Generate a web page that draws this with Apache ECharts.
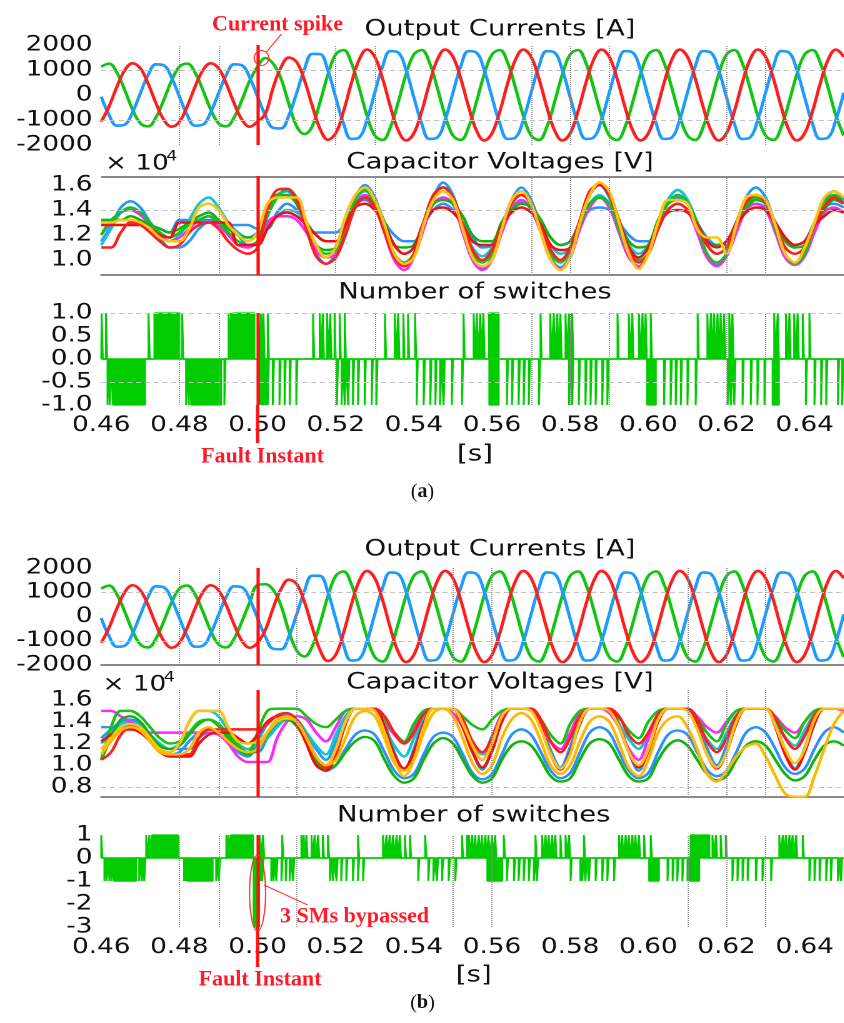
<!DOCTYPE html>
<html><head><meta charset="utf-8">
<script src="https://cdn.jsdelivr.net/npm/echarts@6/dist/echarts.min.js"></script>
<style>
html,body{margin:0;padding:0;background:#fff;overflow:hidden;}
#wrap{position:absolute;left:0;top:0;width:675px;height:1023px;transform:scaleX(1.25);transform-origin:0 0;}
#chart{width:675px;height:1023px;}
</style></head><body>
<div id="wrap"><div id="chart"></div></div>
<script>
// ---------- time grids ----------
const T_START = 0.46, T_END = 0.65, FAULT_T = 0.50;
const CUR_STEP = 0.002;   // current samples every 2 ms
const CAP_STEP = 0.0025;  // capacitor voltage samples every 2.5 ms
const xTicks = [0.46, 0.48, 0.50, 0.52, 0.54, 0.56, 0.58, 0.60, 0.62, 0.64];

// ---------- (a) output currents [A] ----------
const curA_green = [1132,1255,898,198,-577,-1132,-1255,-898,-198,577, 1132,1255,898,198,-577,-1132,-1255,-898,-198,577,
 1132,1480,1250,650,-350,-1250,-1560,-1250,-273,813,
 1622,1798,1287,284,-826,-1622,-1798,-1287,-284,826, 1622,1798,1287,284,-826,-1622,-1798,-1287,-284,826,
 1622,1798,1287,284,-826,-1622,-1798,-1287,-284,826, 1622,1798,1287,284,-826,-1622,-1798,-1287,-284,826,
 1622,1798,1287,284,-826,-1622,-1798,-1287,-284,826, 1622,1798,1287,284,-826,-1622,-1798,-1287,-284,826,
 1622,1798,1287,284,-826,-1622];
const curA_red = [-1066,-455,329,987,1269,1066,455,-329,-987,-1269, -1066,-455,329,987,1269,1066,455,-329,-987,-1269,
 -1066,-750,300,1111,1499,1317,587,-440,-1360,-1788,
 -1527,-652,471,1414,1818,1527,652,-471,-1414,-1818, -1527,-652,471,1414,1818,1527,652,-471,-1414,-1818,
 -1527,-652,471,1414,1818,1527,652,-471,-1414,-1818, -1527,-652,471,1414,1818,1527,652,-471,-1414,-1818,
 -1527,-652,471,1414,1818,1527,652,-471,-1414,-1818, -1527,-652,471,1414,1818,1527,652,-471,-1414,-1818,
 -1527,-652,471,1414,1818,1527];
const curA_blue = [-66,-799,-1227,-1186,-692,66,799,1227,1186,692, -66,-799,-1227,-1186,-692,66,799,1227,1186,692,
 -66,-818,-1314,-1336,-818,82,1032,1642,1635,976,
 -95,-1145,-1758,-1700,-992,95,1145,1758,1700,992, -95,-1145,-1758,-1700,-992,95,1145,1758,1700,992,
 -95,-1145,-1758,-1700,-992,95,1145,1758,1700,992, -95,-1145,-1758,-1700,-992,95,1145,1758,1700,992,
 -95,-1145,-1758,-1700,-992,95,1145,1758,1700,992, -95,-1145,-1758,-1700,-992,95,1145,1758,1700,992,
 -95,-1145,-1758,-1700,-992,95];

// ---------- (b) output currents [A] ----------
const curB_green = [1149,1275,912,201,-586,-1149,-1275,-912,-201,586, 1149,1275,912,201,-586,-1149,-1275,-912,-201,586,
 1300,1330,1100,450,-600,-1400,-1650,-1230,-279,835,
 1675,1857,1329,293,-854,-1675,-1857,-1329,-293,854, 1675,1857,1329,293,-854,-1675,-1857,-1329,-293,854,
 1675,1857,1329,293,-854,-1675,-1857,-1329,-293,854, 1675,1857,1329,293,-854,-1675,-1857,-1329,-293,854,
 1675,1857,1329,293,-854,-1675,-1857,-1329,-293,854, 1675,1857,1329,293,-854,-1675,-1857,-1329,-293,854,
 1675,1857,1329,293,-854,-1675];
const curB_red = [-1082,-462,334,1002,1289,1082,462,-334,-1002,-1289, -1082,-462,334,1002,1289,1082,462,-334,-1002,-1289,
 -1082,-550,357,1127,1518,1342,598,-451,-1391,-1838,
 -1577,-673,487,1461,1878,1577,673,-487,-1461,-1878, -1577,-673,487,1461,1878,1577,673,-487,-1461,-1878,
 -1577,-673,487,1461,1878,1577,673,-487,-1461,-1878, -1577,-673,487,1461,1878,1577,673,-487,-1461,-1878,
 -1577,-673,487,1461,1878,1577,673,-487,-1461,-1878, -1577,-673,487,1461,1878,1577,673,-487,-1461,-1878,
 -1577,-673,487,1461,1878,1577];
const curB_blue = [-67,-811,-1246,-1205,-703,67,811,1246,1205,703, -67,-811,-1246,-1205,-703,67,811,1246,1205,703,
 -67,-830,-1333,-1354,-828,83,1050,1681,1672,1003,
 -98,-1183,-1816,-1756,-1025,98,1183,1816,1756,1025, -98,-1183,-1816,-1756,-1025,98,1183,1816,1756,1025,
 -98,-1183,-1816,-1756,-1025,98,1183,1816,1756,1025, -98,-1183,-1816,-1756,-1025,98,1183,1816,1756,1025,
 -98,-1183,-1816,-1756,-1025,98,1183,1816,1756,1025, -98,-1183,-1816,-1756,-1025,98,1183,1816,1756,1025,
 -98,-1183,-1816,-1756,-1025,98];

// ---------- (a) capacitor voltages [x10^4 V] ----------
const capA_blue = [1.15,1.27,1.42,1.47,1.42,1.30,1.18,1.10, 1.10,1.15,1.25,1.30,1.30,1.28,1.20,1.12, 1.15,1.35,1.52,1.55,1.45,1.25,1.05,0.97, 1.05,1.27,1.50,1.60,1.50,1.27,1.05,0.95, 1.03,1.27,1.50,1.62,1.52,1.27,1.02,0.93, 1.02,1.26,1.48,1.58,1.48,1.26,1.02,0.94, 1.03,1.28,1.52,1.60,1.50,1.27,1.03,0.95, 1.05,1.28,1.48,1.56,1.48,1.27,1.05,0.96, 1.05,1.28,1.50,1.58,1.50,1.28,1.05,0.97, 1.05,1.28,1.48,1.55,1.48];
const capA_red = [1.10,1.10,1.22,1.30,1.28,1.22,1.15,1.10, 1.12,1.22,1.28,1.30,1.25,1.15,1.08,1.05, 1.10,1.40,1.56,1.57,1.48,1.25,1.03,0.97, 1.02,1.20,1.42,1.50,1.42,1.22,1.02,0.95, 1.05,1.30,1.52,1.58,1.50,1.28,1.08,1.00, 1.08,1.27,1.45,1.52,1.45,1.25,1.08,1.00, 1.10,1.32,1.52,1.62,1.52,1.30,1.08,0.98, 1.05,1.25,1.40,1.45,1.40,1.27,1.12,1.05, 1.10,1.30,1.46,1.52,1.46,1.28,1.10,1.05, 1.10,1.28,1.42,1.50,1.45];
const capA_green = [1.20,1.32,1.38,1.42,1.38,1.30,1.22,1.18, 1.22,1.28,1.32,1.35,1.30,1.22,1.15,1.12, 1.15,1.35,1.50,1.57,1.50,1.30,1.12,1.05, 1.08,1.28,1.50,1.56,1.45,1.25,1.05,0.98, 1.05,1.30,1.52,1.58,1.50,1.28,1.05,0.98, 1.05,1.25,1.45,1.52,1.45,1.28,1.05,0.98, 1.07,1.28,1.45,1.50,1.45,1.25,1.06,1.00, 1.05,1.28,1.45,1.52,1.46,1.27,1.05,0.98, 1.05,1.27,1.45,1.50,1.45,1.25,1.05,0.97, 1.05,1.27,1.45,1.52,1.45];
const capA_magenta = [1.20,1.30,1.38,1.40,1.36,1.28,1.20,1.15, 1.18,1.25,1.32,1.35,1.28,1.20,1.12,1.10, 1.15,1.30,1.35,1.35,1.32,1.22,1.08,1.02, 1.05,1.28,1.45,1.52,1.45,1.22,1.00,0.92, 1.02,1.25,1.45,1.50,1.45,1.22,1.00,0.92, 1.00,1.22,1.40,1.48,1.40,1.22,1.00,0.93, 1.02,1.25,1.42,1.50,1.42,1.22,1.02,0.95, 1.05,1.25,1.40,1.45,1.40,1.22,1.02,0.95, 1.03,1.22,1.40,1.45,1.40,1.22,1.02,0.96, 1.03,1.22,1.38,1.42,1.38];
const capA_cyan = [1.12,1.25,1.38,1.42,1.38,1.28,1.20,1.15, 1.20,1.32,1.45,1.50,1.42,1.30,1.22,1.18, 1.22,1.28,1.35,1.40,1.38,1.30,1.20,1.15, 1.15,1.30,1.48,1.55,1.48,1.30,1.12,1.05, 1.10,1.30,1.50,1.55,1.48,1.28,1.10,1.03, 1.10,1.28,1.42,1.48,1.42,1.28,1.12,1.05, 1.10,1.30,1.45,1.52,1.45,1.30,1.12,1.05, 1.12,1.30,1.48,1.56,1.48,1.30,1.12,1.05, 1.10,1.28,1.45,1.52,1.45,1.28,1.10,1.05, 1.10,1.28,1.45,1.52,1.46];
const capA_yellow = [1.30,1.30,1.32,1.32,1.30,1.25,1.18,1.15, 1.15,1.25,1.42,1.45,1.40,1.28,1.20,1.15, 1.22,1.45,1.50,1.50,1.50,1.30,1.12,1.02, 1.10,1.35,1.52,1.58,1.48,1.28,1.05,0.97, 1.02,1.28,1.48,1.55,1.48,1.25,1.02,0.95, 1.00,1.25,1.48,1.55,1.45,1.22,1.00,0.92, 1.02,1.30,1.52,1.62,1.55,1.30,1.05,0.93, 1.05,1.30,1.48,1.48,1.45,1.25,1.18,1.18, 1.05,1.28,1.50,1.52,1.48,1.28,1.05,0.98, 1.10,1.30,1.50,1.55,1.50];
const capA_blue2 = [1.32,1.32,1.32,1.32,1.30,1.28,1.25,1.22, 1.32,1.32,1.32,1.32,1.30,1.28,1.28,1.28, 1.25,1.25,1.38,1.45,1.40,1.28,1.22,1.22, 1.22,1.30,1.45,1.48,1.42,1.30,1.20,1.15, 1.15,1.28,1.40,1.45,1.40,1.30,1.18,1.10, 1.12,1.30,1.42,1.47,1.42,1.30,1.18,1.12, 1.15,1.30,1.40,1.42,1.40,1.30,1.20,1.15, 1.15,1.30,1.45,1.50,1.45,1.30,1.18,1.12, 1.15,1.30,1.42,1.45,1.42,1.30,1.18,1.12, 1.15,1.30,1.42,1.45,1.42];
const capA_red2 = [1.28,1.28,1.28,1.28,1.28,1.25,1.20,1.18, 1.30,1.30,1.30,1.30,1.30,1.30,1.12,1.12, 1.12,1.25,1.35,1.38,1.35,1.28,1.20,1.15, 1.15,1.28,1.42,1.45,1.40,1.28,1.12,1.05, 1.10,1.30,1.40,1.42,1.38,1.28,1.15,1.12, 1.12,1.28,1.38,1.42,1.38,1.28,1.12,1.08, 1.10,1.32,1.55,1.60,1.52,1.32,1.10,1.02, 1.10,1.28,1.38,1.40,1.38,1.28,1.15,1.10, 1.15,1.28,1.38,1.42,1.40,1.30,1.18,1.12, 1.15,1.28,1.35,1.40,1.38];
const capA_green2 = [1.32,1.32,1.32,1.35,1.32,1.28,1.25,1.22, 1.25,1.30,1.35,1.38,1.32,1.25,1.20,1.18, 1.20,1.40,1.52,1.52,1.45,1.30,1.12,1.08, 1.10,1.30,1.45,1.50,1.45,1.30,1.12,1.10, 1.12,1.30,1.45,1.48,1.45,1.35,1.20,1.15, 1.15,1.30,1.40,1.45,1.42,1.32,1.18,1.12, 1.15,1.30,1.45,1.50,1.45,1.30,1.15,1.10, 1.12,1.32,1.45,1.48,1.45,1.30,1.15,1.12, 1.12,1.30,1.42,1.48,1.45,1.30,1.15,1.10, 1.12,1.28,1.40,1.48,1.45];

// ---------- (b) capacitor voltages [x10^4 V] ----------
const capB_blue = [1.25,1.33,1.40,1.42,1.38,1.28,1.16,1.10, 1.12,1.22,1.30,1.33,1.30,1.22,1.12,1.08, 1.22,1.38,1.45,1.46,1.42,1.30,1.15,1.05, 1.21,1.43,1.52,1.52,1.52,1.38,1.12,0.95, 1.15,1.41,1.52,1.52,1.52,1.38,1.13,0.96, 1.15,1.41,1.52,1.52,1.52,1.39,1.14,0.98, 1.17,1.41,1.52,1.52,1.52,1.38,1.12,0.95, 1.15,1.41,1.52,1.52,1.52,1.39,1.16,1.00, 1.18,1.42,1.52,1.52,1.52,1.38,1.14,0.97, 1.16,1.41,1.52,1.52,1.52];
const capB_red = [1.05,1.12,1.28,1.35,1.32,1.22,1.12,1.10, 1.10,1.10,1.25,1.33,1.33,1.33,1.33,1.33, 1.33,1.38,1.46,1.48,1.42,1.26,1.08,0.98, 1.10,1.38,1.52,1.52,1.52,1.45,1.30,1.20, 1.30,1.47,1.52,1.52,1.52,1.42,1.22,1.12, 1.25,1.45,1.52,1.52,1.52,1.42,1.22,1.12, 1.25,1.45,1.52,1.52,1.52,1.45,1.28,1.20, 1.30,1.47,1.52,1.52,1.52,1.42,1.22,1.12, 1.25,1.45,1.52,1.52,1.52,1.43,1.25,1.15, 1.27,1.46,1.52,1.52,1.52];
const capB_green = [1.05,1.35,1.50,1.50,1.45,1.35,1.25,1.20, 1.22,1.30,1.40,1.42,1.38,1.28,1.18,1.12, 1.30,1.50,1.52,1.52,1.52,1.45,1.38,1.35, 1.42,1.50,1.52,1.52,1.52,1.42,1.30,1.22, 1.38,1.50,1.52,1.52,1.52,1.45,1.37,1.33, 1.42,1.50,1.52,1.52,1.52,1.42,1.28,1.20, 1.38,1.50,1.52,1.52,1.52,1.44,1.32,1.25, 1.40,1.50,1.52,1.52,1.52,1.43,1.30,1.22, 1.38,1.50,1.52,1.52,1.52,1.44,1.32,1.25, 1.40,1.50,1.52,1.52,1.52];
const capB_magenta = [1.50,1.50,1.45,1.40,1.35,1.30,1.30,1.30, 1.30,1.30,1.30,1.30,1.28,1.20,1.08,1.03, 1.03,1.03,1.25,1.40,1.45,1.42,1.30,1.22, 1.35,1.50,1.52,1.52,1.50,1.40,1.28,1.20, 1.35,1.50,1.52,1.52,1.48,1.35,1.15,1.05, 1.25,1.47,1.52,1.52,1.50,1.40,1.22,1.15, 1.30,1.48,1.52,1.52,1.48,1.35,1.15,1.05, 1.25,1.47,1.52,1.52,1.52,1.45,1.35,1.30, 1.40,1.50,1.52,1.52,1.52,1.45,1.35,1.30, 1.40,1.50,1.52,1.52,1.50];
const capB_cyan = [1.20,1.30,1.38,1.40,1.36,1.28,1.20,1.15, 1.20,1.40,1.50,1.50,1.45,1.32,1.20,1.15, 1.20,1.25,1.35,1.42,1.40,1.30,1.18,1.10, 1.28,1.45,1.52,1.52,1.52,1.35,1.18,1.08, 1.25,1.45,1.52,1.52,1.52,1.36,1.20,1.10, 1.27,1.45,1.52,1.52,1.52,1.37,1.22,1.12, 1.28,1.46,1.52,1.52,1.52,1.38,1.24,1.15, 1.30,1.46,1.52,1.52,1.52,1.38,1.24,1.15, 1.30,1.46,1.52,1.52,1.52,1.40,1.26,1.18, 1.32,1.47,1.52,1.52,1.52];
const capB_yellow = [1.15,1.25,1.35,1.38,1.35,1.25,1.15,1.12, 1.20,1.40,1.50,1.50,1.50,1.35,1.22,1.20, 1.22,1.30,1.40,1.43,1.40,1.25,1.08,1.00, 1.15,1.40,1.52,1.52,1.50,1.30,1.05,0.90, 1.05,1.35,1.52,1.52,1.52,1.38,1.18,1.05, 1.20,1.45,1.52,1.52,1.50,1.33,1.10,0.97, 1.10,1.40,1.52,1.52,1.50,1.35,1.12,1.00, 1.15,1.42,1.52,1.52,1.50,1.33,1.10,0.98, 1.12,1.40,1.52,1.52,1.52,1.36,1.15,1.02, 1.15,1.42,1.52,1.52,1.52];
const capB_blue2 = [1.35,1.35,1.35,1.36,1.33,1.25,1.18,1.15, 1.15,1.15,1.25,1.30,1.28,1.22,1.15,1.12, 1.12,1.25,1.38,1.42,1.38,1.22,1.02,0.95, 1.00,1.15,1.28,1.32,1.28,1.12,0.95,0.88, 0.92,1.10,1.26,1.30,1.26,1.10,0.93,0.87, 0.92,1.10,1.28,1.33,1.28,1.12,0.95,0.88, 0.93,1.12,1.30,1.35,1.30,1.12,0.95,0.88, 0.93,1.12,1.28,1.32,1.28,1.12,0.96,0.90, 0.95,1.12,1.30,1.35,1.30,1.15,0.98,0.92, 0.97,1.15,1.30,1.35,1.30];
const capB_red2 = [1.22,1.28,1.32,1.33,1.30,1.22,1.12,1.08, 1.08,1.08,1.20,1.28,1.30,1.30,1.25,1.20, 1.28,1.40,1.45,1.45,1.38,1.20,1.00,0.95, 1.10,1.38,1.52,1.52,1.52,1.35,1.10,0.97, 1.12,1.38,1.52,1.52,1.52,1.35,1.12,0.98, 1.13,1.40,1.52,1.52,1.52,1.35,1.10,0.96, 1.12,1.38,1.52,1.52,1.52,1.35,1.12,0.98, 1.13,1.40,1.52,1.52,1.52,1.35,1.10,0.97, 1.12,1.38,1.52,1.52,1.52,1.35,1.10,0.96, 1.12,1.38,1.52,1.52,1.52];
const capB_green2 = [1.05,1.25,1.42,1.45,1.40,1.28,1.18,1.15, 1.18,1.28,1.38,1.42,1.36,1.25,1.15,1.10, 1.15,1.28,1.40,1.42,1.36,1.22,1.05,0.97, 1.00,1.12,1.22,1.26,1.22,1.05,0.90,0.84, 0.88,1.05,1.20,1.25,1.20,1.05,0.90,0.84, 0.88,1.05,1.18,1.22,1.18,1.05,0.90,0.85, 0.88,1.05,1.20,1.24,1.20,1.05,0.90,0.85, 0.88,1.05,1.18,1.23,1.18,1.05,0.92,0.86, 0.90,1.05,1.18,1.22,1.18,1.05,0.92,0.86, 0.90,1.05,1.18,1.22,1.18];
const capB_yellow2 = [1.10,1.22,1.32,1.35,1.32,1.22,1.12,1.10, 1.10,1.15,1.30,1.35,1.30,1.22,1.15,1.12, 1.15,1.30,1.42,1.45,1.40,1.25,1.08,1.00, 1.05,1.25,1.45,1.50,1.45,1.25,1.02,0.95, 1.05,1.30,1.48,1.52,1.45,1.25,1.02,0.92, 1.00,1.25,1.42,1.48,1.42,1.22,1.00,0.92, 1.00,1.22,1.40,1.45,1.40,1.20,0.98,0.90, 1.05,1.30,1.42,1.45,1.35,1.15,0.92,0.85, 0.95,1.08,1.17,1.20,1.08,0.90,0.74,0.71, 0.71,0.90,1.15,1.38,1.50];

// ---------- number of switches: pulse start times, dense blocks [start, end, level] ----------
const PULSE_W = 0.0003;
const swA_pos = [0.4601,0.4612,0.4721,0.4807,0.4926,0.4932,0.5001,0.5009,0.5015,0.5026,0.5142,0.5159,0.5167,0.5178,0.5186,0.5197,0.5210,0.5223,0.5326,0.5351,0.5360,0.5373,0.5385,0.5403,0.5527,0.5553,0.5561,0.5570,0.5578,0.5724,0.5749,0.5758,0.5767,0.5775,0.5788,0.5797,0.5805,0.5921,0.5950,0.5959,0.5976,0.5985,0.5993,0.6006,0.6126,0.6151,0.6160,0.6168,0.6177,0.6185,0.6194,0.6207,0.6215,0.6322,0.6331,0.6352,0.6361,0.6373,0.6382,0.6395,0.6412];
const swA_posBlocks = [[0.4736,0.4800,1],[0.4937,0.4992,1],[0.5592,0.5617,1]];
const swA_neg = [0.4616,0.4622,0.4817,0.4824,0.4915,0.5001,0.5006,0.5011,0.5016,0.5021,0.5026,0.5039,0.5056,0.5069,0.5082,0.5099,0.5203,0.5215,0.5223,0.5232,0.5244,0.5257,0.5274,0.5292,0.5304,0.5407,0.5425,0.5442,0.5455,0.5467,0.5476,0.5497,0.5523,0.5638,0.5651,0.5668,0.5681,0.5694,0.5720,0.5797,0.5805,0.5822,0.5839,0.5852,0.5865,0.5882,0.5895,0.6040,0.6057,0.6070,0.6083,0.6100,0.6121,0.6203,0.6211,0.6220,0.6241,0.6262,0.6279,0.6297,0.6403,0.6425,0.6442,0.6455,0.6485,0.6496];
const swA_negBlocks = [[0.4630,0.4712,-1],[0.4830,0.4907,-1],[0.5593,0.5617,-1],[0.5997,0.6019,-1],[0.6318,0.6334,-1]];
const swB_pos = [0.4600,0.4715,0.4723,0.4920,0.4926,0.5005,0.5014,0.5063,0.5112,0.5118,0.5125,0.5138,0.5146,0.5155,0.5167,0.5180,0.5257,0.5321,0.5330,0.5338,0.5347,0.5356,0.5364,0.5377,0.5390,0.5429,0.5523,0.5536,0.5541,0.5549,0.5557,0.5566,0.5574,0.5583,0.5591,0.5600,0.5608,0.5630,0.5711,0.5728,0.5737,0.5745,0.5754,0.5762,0.5775,0.5788,0.5797,0.5835,0.5925,0.5933,0.5942,0.5950,0.5959,0.5967,0.5976,0.5989,0.6006,0.6164,0.6173,0.6185,0.6198,0.6335,0.6344,0.6352,0.6361,0.6369,0.6378,0.6395];
const swB_posBlocks = [[0.4730,0.4796,1],[0.4932,0.4988,1],[0.6108,0.6156,1]];
const swB_neg = [0.4608,0.4614,0.4621,0.4627,0.4697,0.4704,0.4710,0.4812,0.4817,0.4894,0.4901,0.5007,0.5012,0.5035,0.5041,0.5048,0.5061,0.5072,0.5082,0.5091,0.5185,0.5193,0.5202,0.5214,0.5227,0.5244,0.5257,0.5270,0.5411,0.5437,0.5450,0.5459,0.5472,0.5489,0.5506,0.5638,0.5656,0.5668,0.5681,0.5694,0.5707,0.5715,0.5801,0.5826,0.5831,0.5839,0.5848,0.5865,0.5882,0.5895,0.5912,0.6049,0.6062,0.6074,0.6087,0.6100,0.6215,0.6228,0.6241,0.6254,0.6275,0.6292,0.6314,0.6412,0.6425,0.6438,0.6455,0.6467,0.6485,0.6493];
const swB_negBlocks = [[0.4633,0.4689,-1],[0.4821,0.4885,-1],[0.4990,0.5004,-3],[0.5588,0.5626,-1],[0.6002,0.6027,-1],[0.6105,0.6130,-1]];

// ---------- gridline positions ----------
const vGridA = [0.48,0.49,0.52,0.53,0.57,0.58,0.59,0.62,0.63];
const vGridB = [0.48,0.49,0.51,0.55,0.56,0.61,0.62,0.63];

// ---------- styling ----------
const C = {red:'#ff1e1e', green:'#14c414', blue:'#1e9bff', magenta:'#ff26ff', cyan:'#12c6d0', yellow:'#ffc20e',
  blue2:'#2f8fff', red2:'#ee1010', green2:'#0fb40f', yellow2:'#ffb800', sw:'#00cc00', fault:'#ff1010'};
const FONT = 'DejaVu Sans';

function pairs(arr, step){ return arr.map((v,i)=>[+(T_START + i*step).toFixed(5), v]); }
function pulses(thin, blocks, level){
  const segs = thin.map(t=>[t, t+PULSE_W, level]).concat(blocks);
  segs.sort((a,b)=>a[0]-b[0]);
  const pts = [[T_START,0]];
  segs.forEach(s=>{ pts.push([s[0],0],[s[0],s[2]],[s[1],s[2]],[s[1],0]); });
  pts.push([T_END,0]);
  return pts;
}
function line(gi, data, color, w, smooth){
  return {type:'line', xAxisIndex:gi, yAxisIndex:gi, data, showSymbol:false, symbol:'none', smooth:smooth,
    silent:true, lineStyle:{color, width:w}, itemStyle:{color}, z:2};
}
function swSeries(gi, data){
  return {type:'line', xAxisIndex:gi, yAxisIndex:gi, data, showSymbol:false, symbol:'none', silent:true,
    lineStyle:{color:C.sw, width:1.5}, areaStyle:{color:C.sw, opacity:1, origin:0}, z:2};
}
function gridMarks(gi, vlines, hlines, extra){
  const d = vlines.map(v=>({xAxis:v, lineStyle:{type:'dotted', color:'#8f8f8f', width:1}}))
    .concat(hlines.map(v=>({yAxis:v, lineStyle:{type:[4,3], color:'#c2c2c2', width:1}})))
    .concat(extra || []);
  return {type:'line', xAxisIndex:gi, yAxisIndex:gi, data:[[T_START,null]], z:1, silent:true, showSymbol:false,
    markLine:{silent:true, symbol:['none','none'], label:{show:false}, animation:false, data:d}};
}
function faultMark(gi){
  return {type:'line', xAxisIndex:gi, yAxisIndex:gi, data:[[T_START,null]], z:10, silent:true, showSymbol:false,
    markLine:{silent:true, symbol:['none','none'], label:{show:false}, animation:false,
      data:[{xAxis:FAULT_T, lineStyle:{color:C.fault, width:2.6, type:'solid'}}]}};
}

const GRIDS = [{top:45,height:100},{top:176,height:99},{top:313,height:92},
               {top:568,height:97},{top:690,height:107},{top:835,height:92}];
const labelStyle = {fontSize:21, color:'#111', fontFamily:FONT, margin:7};

const option = {
  animation:false,
  backgroundColor:'#ffffff',
  grid: GRIDS.map(g=>({left:81, right:0, top:g.top, height:g.height})),
  xAxis: GRIDS.map((g,i)=>({gridIndex:i, type:'value', min:T_START, max:T_END, interval:0.02,
    axisLine:{show:[1,3,4].includes(i), onZero:false, lineStyle:{color:'#8a8a8a', width:2}},
    axisTick:{show:false}, splitLine:{show:false},
    axisLabel:{show:(i===2||i===5), margin:10, fontSize:21, color:'#111', fontFamily:FONT,
      showMaxLabel:false, showMinLabel:true, formatter:v=>v.toFixed(2)}})),
  yAxis: [
    {gridIndex:0, type:'value', min:-2000, max:2000, interval:1000, axisLabel:Object.assign({formatter:v=>String(Math.round(v))}, labelStyle)},
    {gridIndex:1, type:'value', min:0.88, max:1.672, axisLabel:Object.assign({customValues:[1.0,1.2,1.4,1.6], formatter:v=>v.toFixed(1)}, labelStyle)},
    {gridIndex:2, type:'value', min:-1, max:1, interval:0.5, axisLabel:Object.assign({formatter:v=>v.toFixed(1)}, labelStyle)},
    {gridIndex:3, type:'value', min:-2000, max:2000, interval:1000, axisLabel:Object.assign({formatter:v=>String(Math.round(v))}, labelStyle)},
    {gridIndex:4, type:'value', min:0.708, max:1.692, axisLabel:Object.assign({customValues:[0.8,1.0,1.2,1.4,1.6], formatter:v=>v.toFixed(1)}, labelStyle)},
    {gridIndex:5, type:'value', min:-3, max:1, interval:1, axisLabel:Object.assign({formatter:v=>String(Math.round(v))}, labelStyle)}
  ].map(a=>Object.assign(a, {axisLine:{show:false}, axisTick:{show:false}, splitLine:{show:false}})),
  series: [
    gridMarks(0, vGridA, [1000,-1000]),
    line(0, pairs(curA_green, CUR_STEP), C.green, 2.6, 0.4),
    line(0, pairs(curA_blue, CUR_STEP), C.blue, 2.6, 0.4),
    line(0, pairs(curA_red, CUR_STEP), C.red, 2.6, 0.4),
    faultMark(0),

    gridMarks(1, vGridA, [1.4], [{yAxis:1.668, lineStyle:{type:'solid', color:'#8a8a8a', width:2}}]),
    line(1, pairs(capA_blue, CAP_STEP), C.blue, 2.4, 0.35),
    line(1, pairs(capA_blue2, CAP_STEP), C.blue2, 2.4, 0.35),
    line(1, pairs(capA_cyan, CAP_STEP), C.cyan, 2.4, 0.35),
    line(1, pairs(capA_magenta, CAP_STEP), C.magenta, 2.4, 0.35),
    line(1, pairs(capA_green2, CAP_STEP), C.green2, 2.4, 0.35),
    line(1, pairs(capA_green, CAP_STEP), C.green, 2.4, 0.35),
    line(1, pairs(capA_red2, CAP_STEP), C.red2, 2.4, 0.35),
    line(1, pairs(capA_red, CAP_STEP), C.red, 2.4, 0.35),
    line(1, pairs(capA_yellow, CAP_STEP), C.yellow, 2.4, 0.35),
    faultMark(1),

    gridMarks(2, vGridA, [1.0,-0.5]),
    swSeries(2, pulses(swA_pos, swA_posBlocks, 1)),
    swSeries(2, pulses(swA_neg, swA_negBlocks, -1)),
    faultMark(2),

    gridMarks(3, vGridB, [1000,-1000]),
    line(3, pairs(curB_green, CUR_STEP), C.green, 2.6, 0.4),
    line(3, pairs(curB_blue, CUR_STEP), C.blue, 2.6, 0.4),
    line(3, pairs(curB_red, CUR_STEP), C.red, 2.6, 0.4),
    faultMark(3),

    gridMarks(4, vGridB, [0.8]),
    line(4, pairs(capB_blue, CAP_STEP), C.blue, 2.4, 0.35),
    line(4, pairs(capB_blue2, CAP_STEP), C.blue2, 2.4, 0.35),
    line(4, pairs(capB_cyan, CAP_STEP), C.cyan, 2.4, 0.35),
    line(4, pairs(capB_magenta, CAP_STEP), C.magenta, 2.4, 0.35),
    line(4, pairs(capB_green2, CAP_STEP), C.green2, 2.4, 0.35),
    line(4, pairs(capB_green, CAP_STEP), C.green, 2.4, 0.35),
    line(4, pairs(capB_red2, CAP_STEP), C.red2, 2.4, 0.35),
    line(4, pairs(capB_red, CAP_STEP), C.red, 2.4, 0.35),
    line(4, pairs(capB_yellow, CAP_STEP), C.yellow, 2.4, 0.35),
    line(4, pairs(capB_yellow2, CAP_STEP), C.yellow2, 2.4, 0.35),
    faultMark(4),

    gridMarks(5, vGridB, []),
    swSeries(5, pulses(swB_pos, swB_posBlocks, 1)),
    swSeries(5, pulses(swB_neg, swB_negBlocks, -1)),
    faultMark(5)
  ]
};

const chart = echarts.init(document.getElementById('chart'), null, {renderer:'canvas', devicePixelRatio:2});
chart.setOption(option);

// ---------- annotations (texts, fault-line extensions, marks) ----------
const px = (gi, t, v) => chart.convertToPixel({gridIndex:gi}, [t, v]);
function txt(x, y, text, size, opts){
  return Object.assign({type:'text', x, y, z:100, silent:true,
    style:{text, fontSize:size, fontFamily:FONT, fill:'#111', align:'center', verticalAlign:'middle'}}, opts||{});
}
function red(x, y, text, align){
  return {type:'text', x, y, z:100, silent:true, scaleX:0.8,
    style:{text, fontSize:22, fontFamily:'Liberation Serif', fontWeight:'bold', fill:'#ff1a2a', align:align||'center', verticalAlign:'middle'}};
}
const fa = px(2, FAULT_T, -1), fb = px(5, FAULT_T, -3);
const sp = px(0, 0.501, 1480);
const el = px(5, FAULT_T, -1.52);
chart.setOption({graphic:[
  txt(400, 30, 'Output Currents [A]', 22),
  txt(84, 164, '× 10', 21, {style:{text:'× 10', fontSize:21, fontFamily:FONT, fill:'#111', align:'left', verticalAlign:'middle'}}),
  txt(133, 157, '4', 14, {style:{text:'4', fontSize:14, fontFamily:FONT, fill:'#111', align:'left', verticalAlign:'middle'}}),
  txt(400, 163, 'Capacitor Voltages [V]', 22),
  txt(380, 293, 'Number of switches', 22),
  txt(380, 455, '[s]', 22),
  txt(400, 550, 'Output Currents [A]', 22),
  txt(82, 685, '× 10', 21, {style:{text:'× 10', fontSize:21, fontFamily:FONT, fill:'#111', align:'left', verticalAlign:'middle'}}),
  txt(131, 678, '4', 14, {style:{text:'4', fontSize:14, fontFamily:FONT, fill:'#111', align:'left', verticalAlign:'middle'}}),
  txt(400, 683, 'Capacitor Voltages [V]', 22),
  txt(379, 816, 'Number of switches', 22),
  txt(379, 976, '[s]', 22),
  {type:'text', x:338, y:492, z:100, silent:true, scaleX:0.8, style:{text:'({b|a})', fontSize:20, fontFamily:'Liberation Serif', fill:'#111', align:'center', verticalAlign:'middle', rich:{b:{fontSize:20, fontFamily:'Liberation Serif', fontWeight:'bold', fill:'#111'}}}},
  {type:'text', x:338, y:1003, z:100, silent:true, scaleX:0.8, style:{text:'({b|b})', fontSize:20, fontFamily:'Liberation Serif', fill:'#111', align:'center', verticalAlign:'middle', rich:{b:{fontSize:20, fontFamily:'Liberation Serif', fontWeight:'bold', fill:'#111'}}}},
  {type:'line', z:100, silent:true, shape:{x1:fa[0], y1:fa[1], x2:fa[0], y2:443}, style:{stroke:C.fault, lineWidth:2.6}},
  {type:'line', z:100, silent:true, shape:{x1:fb[0], y1:fb[1], x2:fb[0], y2:967}, style:{stroke:C.fault, lineWidth:2.6}},
  red(222, 25, 'Current spike'),
  {type:'ellipse', z:100, silent:true, shape:{cx:sp[0], cy:sp[1], rx:5.8, ry:7.5}, style:{stroke:'#ff3030', fill:'none', lineWidth:1}},
  {type:'line', z:100, silent:true, shape:{x1:sp[0]+4, y1:sp[1]-6, x2:sp[0]+16, y2:sp[1]-24}, style:{stroke:'#ff3030', lineWidth:1}},
  red(fa[0]+4, 457, 'Fault Instant'),
  red(fb[0]+2, 980, 'Fault Instant'),
  red(224, 917, '3 SMs bypassed', 'left'),
  {type:'ellipse', z:100, silent:true, shape:{cx:el[0], cy:el[1], rx:6.4, ry:38}, style:{stroke:'#ff3030', fill:'none', lineWidth:1}},
  {type:'line', z:100, silent:true, shape:{x1:el[0]+5, y1:el[1]-8, x2:el[0]+40, y2:el[1]+12}, style:{stroke:'#ff3030', lineWidth:1}}
]});
</script>
</body></html>
